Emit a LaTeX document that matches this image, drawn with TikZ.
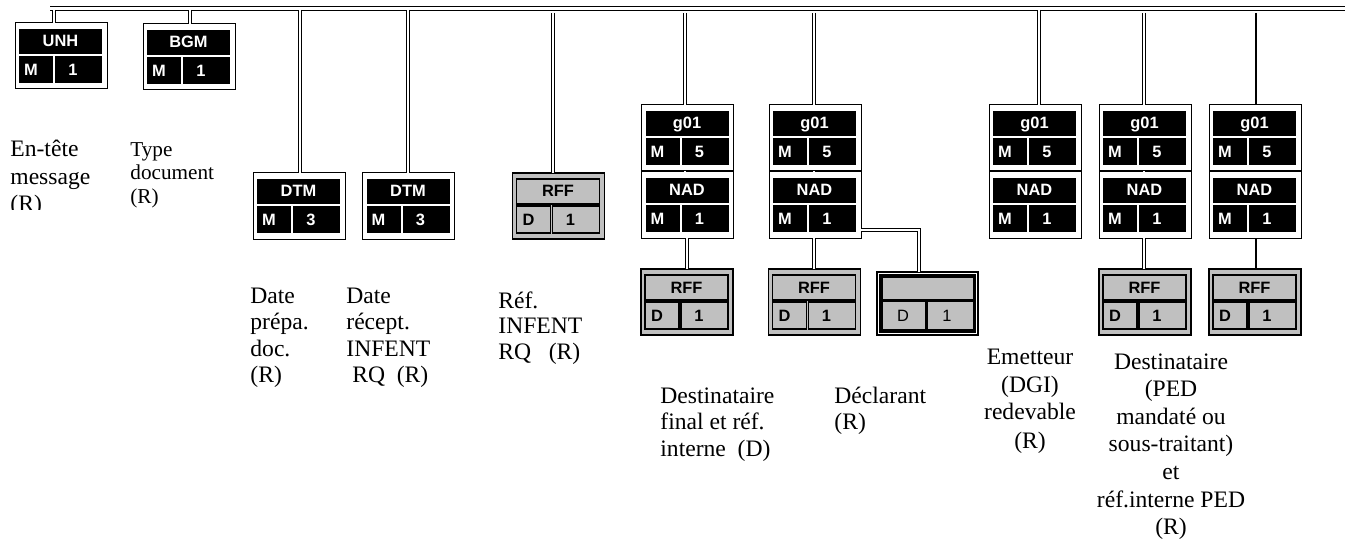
\documentclass[tikz,border=0pt]{standalone}
\usepackage{fontspec}
\setmainfont{Liberation Serif}
\newfontfamily\boxfont{Liberation Sans}
\usetikzlibrary{calc}
\definecolor{silver}{RGB}{192,192,192}

\newcommand\Lcol[2]{\vtop{\baselineskip=#1\lineskiplimit=-20pt\lineskip=0pt\halign{##\hfil\cr#2\crcr}}}
\newcommand\Ccol[2]{\vtop{\baselineskip=#1\lineskiplimit=-20pt\lineskip=0pt\halign{\hfil##\hfil\cr#2\crcr}}}

\tikzset{
  outerblk/.style={draw=black, line width=0.5pt, fill=white, minimum width=46pt, minimum height=33pt, inner sep=0pt, outer sep=0pt},
  outergry/.style={draw=black, line width=0.8pt, fill=silver, minimum width=46pt, minimum height=33pt, inner sep=0pt, outer sep=0pt},
  cellblk/.style={fill=black},
  cellgry/.style={fill=silver, draw=black, line width=0.7pt},
  txtblk/.style={text=white, font=\boxfont\bfseries\fontsize{8.2}{9}\selectfont, inner sep=0pt, anchor=base},
  txtgry/.style={text=black, font=\boxfont\bfseries\fontsize{8.2}{9}\selectfont, inner sep=0pt, anchor=base},
  txtplain/.style={text=black, font=\boxfont\fontsize{8.2}{9}\selectfont, inner sep=0pt, anchor=base},
  lab/.style={inner sep=0pt, font=\fontsize{11.8}{13.5}\selectfont},
  labsmall/.style={inner sep=0pt, font=\fontsize{10.6}{12}\selectfont},
  dbl/.style={draw=black, line width=0.6pt, double=white, double distance=0.75pt},
  busline/.style={draw=black, line width=0.55pt, double=white, double distance=1.5pt},
  sgl/.style={draw=black, line width=0.6pt},
}

\newcommand\segm[7]{%
  \node[outer#7, anchor=north] (#1) at (#2,#3) {};
  \path[cell#7] ($(#1.north west)+(4,6)$) rectangle ($(#1.north west)+(87,31)$);
  \path[cell#7] ($(#1.north west)+(4,33)$) rectangle ($(#1.north west)+(38,60)$);
  \path[cell#7] ($(#1.north west)+(40,33)$) rectangle ($(#1.north west)+(87,60)$);
  \node[txt#7] (#1-l) at ($(#1.north west)+(45.5,24)$) {#4};
  \node[txt#7] (#1-s) at ($(#1.north west)+(16,52.5)$) {#5};
  \node[txt#7] (#1-r) at ($(#1.north west)+(58,52.5)$) {#6};
}

\begin{document}
\begin{tikzpicture}[x=0.5pt, y=-0.5pt]
\useasboundingbox (0,0) rectangle (1345,540);

% boxes
\segm{unh}{61}{23}{UNH}{M}{1}{blk}
\segm{bgm}{189}{24}{BGM}{M}{1}{blk}
\segm{dtma}{299}{173}{DTM}{M}{3}{blk}
\segm{dtmb}{408.5}{173}{DTM}{M}{3}{blk}
\segm{rffa}{558.5}{173}{RFF}{D}{1}{gry}
\segm{ga}{687.5}{105}{g01}{M}{5}{blk}
\segm{nada}{687.5}{172}{NAD}{M}{1}{blk}
\segm{rffb}{687}{269}{RFF}{D}{1}{gry}
\segm{gb}{815}{105}{g01}{M}{5}{blk}
\segm{nadb}{815}{172}{NAD}{M}{1}{blk}
\segm{rffc}{814.5}{269}{RFF}{D}{1}{gry}
\segm{gc}{1035}{105}{g01}{M}{5}{blk}
\segm{nadc}{1035}{172}{NAD}{M}{1}{blk}
\segm{gd}{1145}{105}{g01}{M}{5}{blk}
\segm{nadd}{1145}{172}{NAD}{M}{1}{blk}
\segm{rffd}{1145}{269}{RFF}{D}{1}{gry}
\segm{ge}{1255}{105}{g01}{M}{5}{blk}
\segm{nade}{1255}{172}{NAD}{M}{1}{blk}
\segm{rffe}{1255}{269}{RFF}{D}{1}{gry}

% declarant box (double frame)
\node[draw=black, line width=0.6pt, fill=white, minimum width=50.5pt, minimum height=31.5pt, inner sep=0pt, outer sep=0pt] (decl) at (927.5,303.5) {};
\draw[line width=0.6pt] ($(decl.north west)+(3,3)$) rectangle ($(decl.south east)+(-3,-3)$);
\path[cellgry] ($(decl.north west)+(5,5)$) rectangle ($(decl.north west)+(97,28)$);
\path[cellgry] ($(decl.north west)+(5,29)$) rectangle ($(decl.north west)+(49,58)$);
\path[cellgry] ($(decl.north west)+(50,29)$) rectangle ($(decl.north west)+(97,58)$);
\node[txtplain] (decl-s) at ($(decl.north west)+(26,49)$) {D};
\node[txtplain] (decl-r) at ($(decl.north west)+(70,49)$) {1};

% bus
\coordinate (busL) at (50,8.5);
\coordinate (busR) at (1345,8.5);
\draw[busline] (busL) -- (busR);

% verticals from bus
\coordinate (tunh) at (54,10);
\coordinate (tbgm) at (190,10);
\coordinate (tdtma) at (300,10);
\coordinate (tdtmb) at (408,10);
\coordinate (trffa) at (553,13);
\coordinate (tga) at (685,13);
\coordinate (tgb) at (814,13);
\coordinate (tgc) at (1039,10);
\coordinate (tgd) at (1144,13);
\coordinate (tge) at (1256,13);
\draw[dbl] (tunh) -- (tunh |- unh.north);
\draw[dbl] (tbgm) -- (tbgm |- bgm.north);
\draw[dbl] (tdtma) -- (tdtma |- dtma.north);
\draw[dbl] (tdtmb) -- (tdtmb |- dtmb.north);
\draw[dbl] (trffa) -- (trffa |- rffa.north);
\draw[dbl] (tga) -- (tga |- ga.north);
\draw[dbl] (tgb) -- (tgb |- gb.north);
\draw[dbl] (tgc) -- (tgc |- gc.north);
\draw[dbl] (tgd) -- (tgd |- gd.north);
\draw[sgl] (tge) -- (tge |- ge.north);

% g01 -> NAD
\draw[dbl] (tga |- ga.south) -- (tga |- nada.north);
\draw[dbl] (tgb |- gb.south) -- (tgb |- nadb.north);
\draw[dbl] (tgd |- gd.south) -- (tgd |- nadd.north);
\draw[sgl] (tge |- ge.south) -- (tge |- nade.north);

% NAD -> RFF
\draw[dbl] (nada.south -| 687,0) -- (rffb.north -| 687,0);
\draw[dbl] (nadb.south -| 814,0) -- (rffc.north -| 814,0);
\draw[dbl] (nadd.south -| 1144,0) -- (rffd.north -| 1144,0);
\draw[sgl] (nade.south -| 1256,0) -- (rffe.north -| 1256,0);

% NAD -> declarant
\draw[dbl] ($(nadb.south east)+(0,-8)$) -| ($(decl.north west)+(42,0)$);

% labels
\begin{scope}
\clip (0,0) rectangle (128,210);
\node[lab, anchor=base west] (t1) at (10,157) {\Lcol{13.75pt}{En-tête\cr message\cr (R)}};
\end{scope}
\node[labsmall, anchor=base west] (t2) at (130,156) {\Lcol{12pt}{Type\cr document\cr (R)}};
\node[lab, anchor=base west] (t3) at (250,303) {\Lcol{13.25pt}{Date\cr prépa.\cr doc.\cr (R)}};
\node[lab, anchor=base west] (t4) at (346,303) {\Lcol{13.25pt}{Date\cr récept.\cr INFENT\cr \ RQ\ \ (R)}};
\node[lab, anchor=base west] (t5) at (498,308) {\Lcol{12.75pt}{Réf.\cr INFENT\cr RQ\ \ \ (R)}};
\node[lab, anchor=base west] (t6) at (660,403) {\Lcol{13.3pt}{Destinataire\cr final et réf.\cr interne\ \ (D)}};
\node[lab, anchor=base west] (t7) at (834,403) {\Lcol{13.3pt}{Déclarant\cr (R)}};
\node[lab, anchor=base] (t8) at (1030,364) {\Ccol{14pt}{Emetteur\cr (DGI)\cr redevable\cr (R)}};
\node[lab, anchor=base] (t9) at (1171,369) {\Ccol{13.8pt}{Destinataire\cr (PED\cr mandaté ou\cr sous-traitant)\cr et\cr réf.interne PED\cr (R)}};

\end{tikzpicture}
\end{document}
